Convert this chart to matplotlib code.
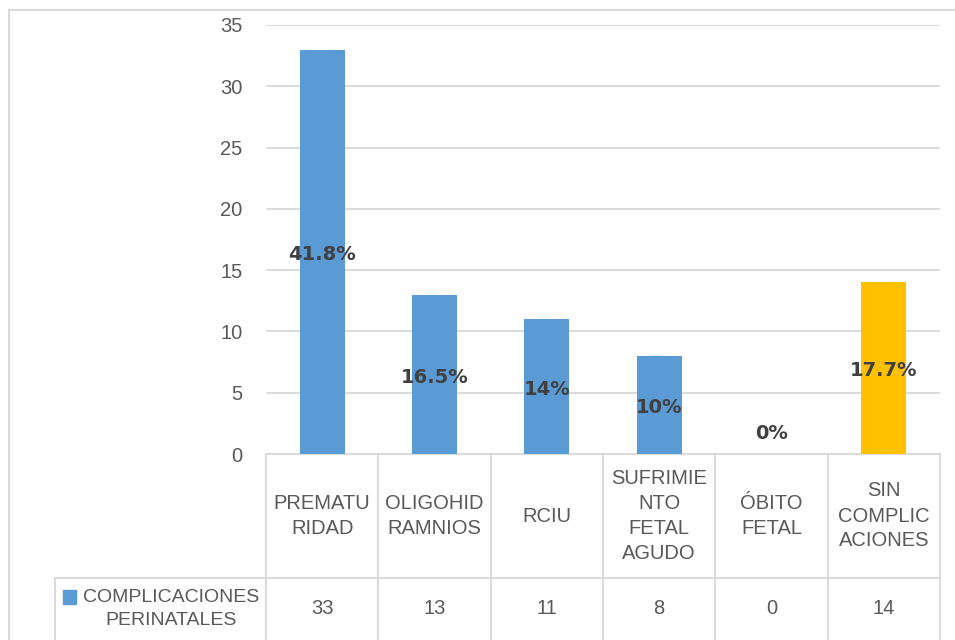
import matplotlib
matplotlib.use('Agg')
import matplotlib.pyplot as plt
from matplotlib.patches import Rectangle
import matplotlib.transforms as mtransforms

categories = ['PREMATU\nRIDAD', 'OLIGOHID\nRAMNIOS', 'RCIU', 'SUFRIMIE\nNTO\nFETAL\nAGUDO',
              'ÓBITO\nFETAL', 'SIN\nCOMPLIC\nACIONES']
values = [33, 13, 11, 8, 0, 14]
pct_labels = ['41.8%', '16.5%', '14%', '10%', '0%', '17.7%']
bar_colors = ['#5B9BD5', '#5B9BD5', '#5B9BD5', '#5B9BD5', '#5B9BD5', '#FFC000']
series_name = 'COMPLICACIONES\nPERINATALES'

plt.rcParams['font.family'] = ['Liberation Sans Narrow', 'Liberation Sans', 'DejaVu Sans']

W, H = 955, 640
fig = plt.figure(figsize=(W / 100, H / 100), dpi=100)
ax = fig.add_axes([266 / W, 1 - 454 / H, 674 / W, 429 / H])

grid_c = '#d9d9d9'
text_c = '#595959'
fs = 14.5

xs = list(range(len(values)))
ax.bar(xs, values, width=0.4, color=bar_colors, zorder=3)
ax.set_xlim(-0.5, len(values) - 0.5)
ax.set_ylim(0, 35)
ax.set_yticks(range(0, 36, 5))
ax.yaxis.grid(True, color=grid_c, linewidth=1.3, zorder=0)
ax.tick_params(axis='y', length=0, labelsize=fs, labelcolor=text_c, pad=17)
ax.set_xticks([])
for s in ax.spines.values():
    s.set_visible(False)

# percent labels inside the bars
for x, v, lab in zip(xs, values, pct_labels):
    off = 15 if v == 0 else -2
    ax.annotate(lab, (x, v / 2), xytext=(0, off), textcoords='offset points',
                ha='center', va='center', fontsize=14, fontweight='bold',
                family='DejaVu Sans', color='#404040', zorder=4)

# data table under the axis
tr = mtransforms.blended_transform_factory(ax.transData, ax.transAxes)
ta = ax.transAxes
row_y = -124 / 429
bot_y = -190 / 429
lk = dict(color=grid_c, linewidth=1.3, clip_on=False)
ax.plot([-0.5, len(values) - 0.5], [0, 0], transform=tr, **lk)
for b in [i - 0.5 for i in range(len(values) + 1)]:
    ax.plot([b, b], [0, bot_y], transform=tr, **lk)
ax.plot([(55 - 266) / 674, 1], [row_y, row_y], transform=ta, **lk)
ax.plot([(55 - 266) / 674] * 2, [row_y, bot_y], transform=ta, **lk)

for x, cat, v in zip(xs, categories, values):
    ax.text(x, row_y / 2, cat, transform=tr, ha='center', va='center',
            fontsize=fs, color=text_c, linespacing=1.4, clip_on=False)
    ax.text(x, -155 / 429, str(v), transform=tr, ha='center', va='center',
            fontsize=fs, color=text_c, clip_on=False)

ax.add_patch(Rectangle(((63 - 266) / 674, -150 / 429), 13 / 674, 14 / 429,
                       transform=ta, color=bar_colors[0], clip_on=False))
ax.text((171 - 266) / 674, -155 / 429, series_name, transform=ta, ha='center',
        va='center', fontsize=14, color=text_c, linespacing=1.45, clip_on=False)

# chart border
fig.patches.append(Rectangle((9 / W, -0.1), 1.1, 1 - 10 / H + 0.1,
                             transform=fig.transFigure, fill=False,
                             edgecolor=grid_c, linewidth=1.5))

fig.savefig('out.png', dpi=100)
